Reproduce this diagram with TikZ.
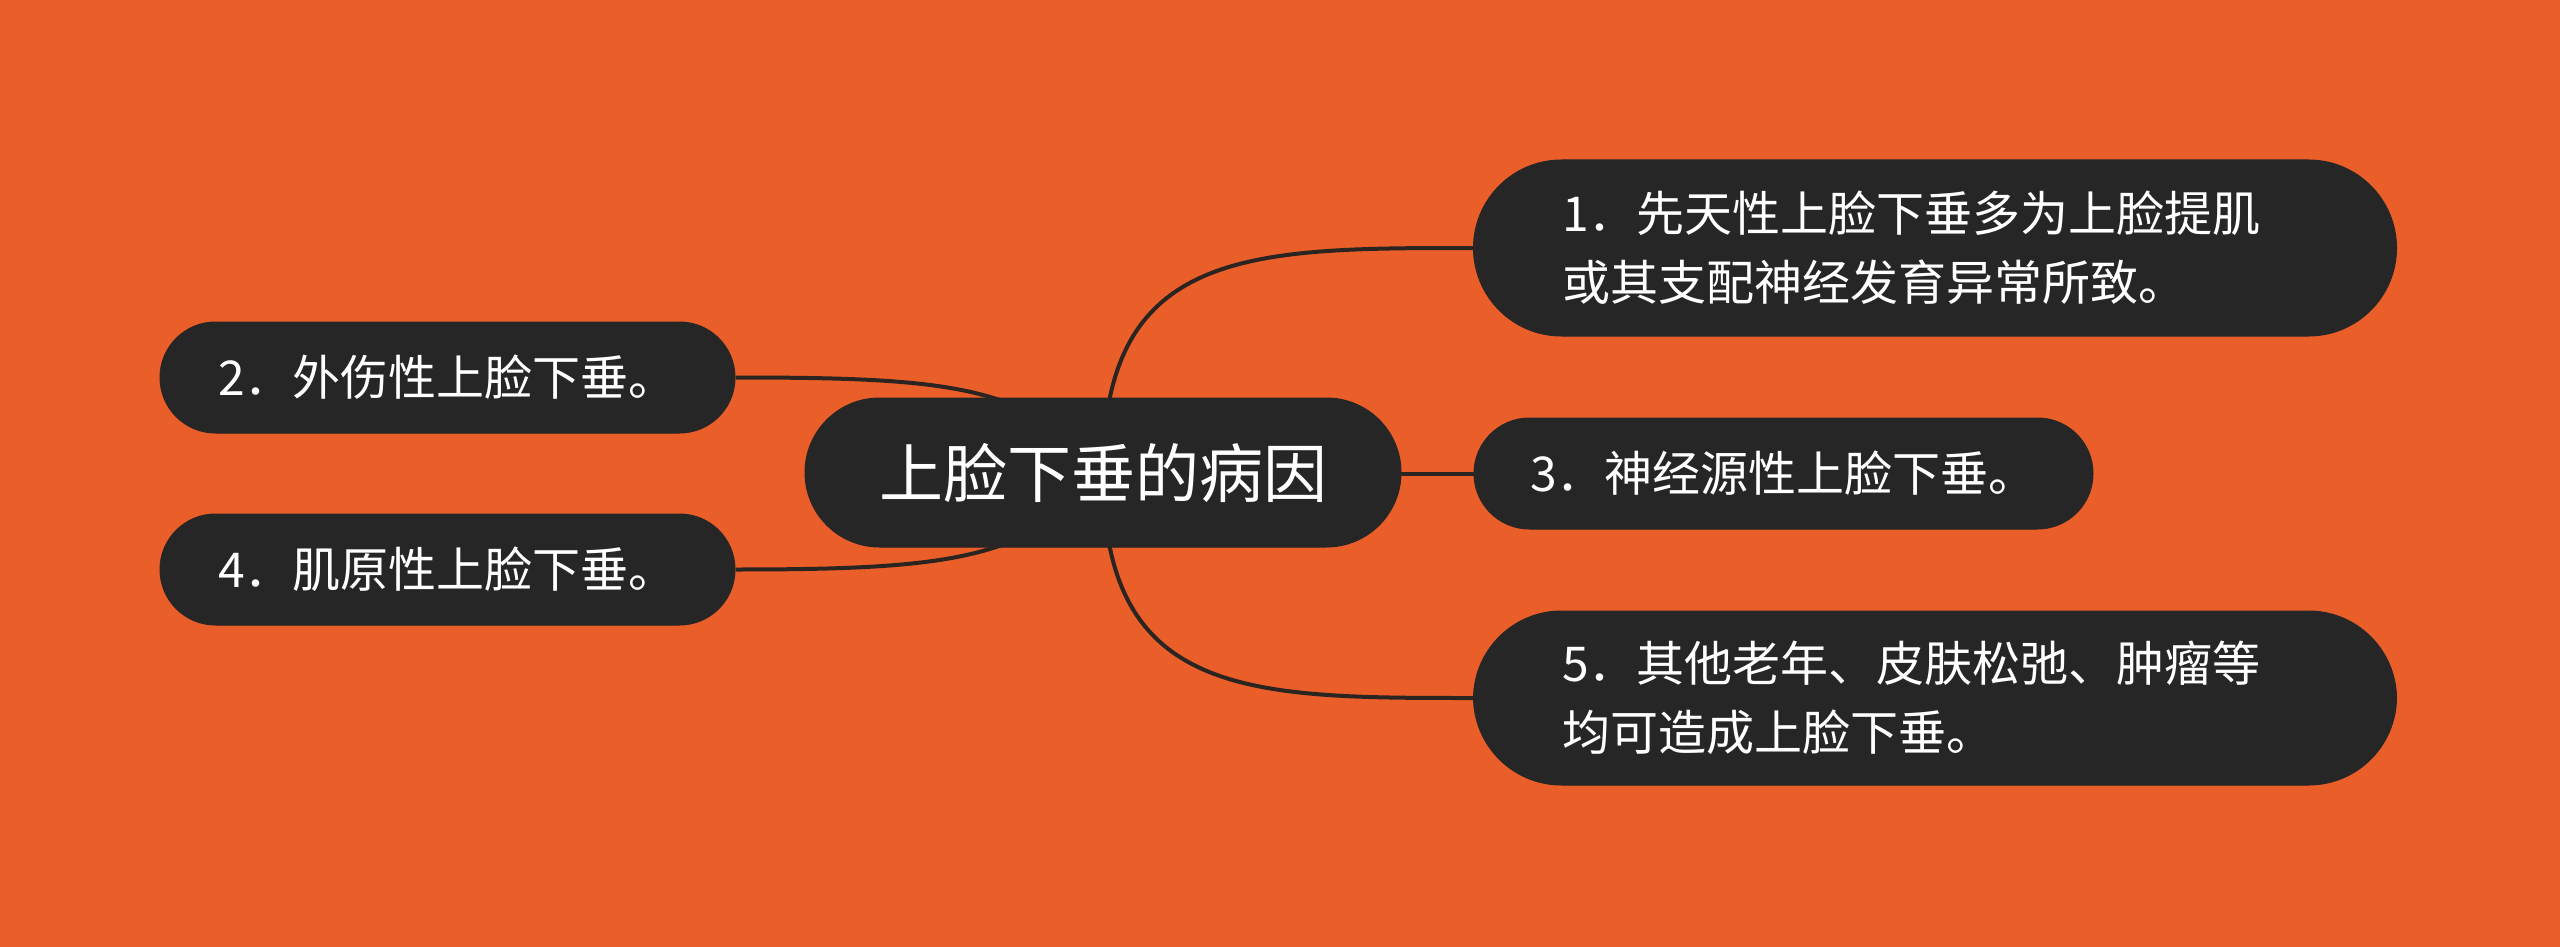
\documentclass[tikz,border=0pt]{standalone}
\usepackage{fontspec}
\newfontfamily\cjk{Noto Sans CJK SC}
\usetikzlibrary{calc}
\definecolor{bgorange}{HTML}{EA5E2A}
\definecolor{nodedark}{HTML}{262626}
\definecolor{linedark}{HTML}{2B2522}
\pgfdeclarelayer{bg}\pgfdeclarelayer{edges}\pgfsetlayers{bg,edges,main}
\begin{document}
\begin{tikzpicture}[x=0.5pt,y=-0.5pt,
  pill/.style={fill=nodedark, draw=black!85, line width=0.5pt, text=white, inner sep=0pt,
    font=\cjk\fontsize{24}{34.5}\selectfont},
  small/.style={pill, minimum width=287.5pt, minimum height=55.5pt, rounded corners=27.75pt},
  big/.style={pill, minimum width=461.5pt, minimum height=88pt, rounded corners=44pt,
    text width=373pt, align=left},
  centre/.style={pill, minimum width=298pt, minimum height=74.5pt, rounded corners=37.25pt,
    font=\cjk\fontsize{32}{38}\selectfont},
  edge/.style={draw=linedark, line width=2pt}
]
\useasboundingbox (0,0) rectangle (2560,947);
\begin{pgfonlayer}{bg}
\fill[bgorange] (0,0) rectangle (2560,947);
\end{pgfonlayer}

\node[centre] (c) at (1103,472.5) {上脸下垂的病因};
\node[big] (n1) at (1935,248) {1．先天性上脸下垂多为上脸提肌\\或其支配神经发育异常所致。};
\node[small] (n2) at (447.5,377.5) {2．外伤性上脸下垂。};
\node[small, minimum width=309.5pt] (n3) at (1783.5,473.5) {3．神经源性上脸下垂。};
\node[small] (n4) at (447.5,569.5) {4．肌原性上脸下垂。};
\node[big, minimum height=87pt] (n5) at (1935,698) {5．其他老年、皮肤松弛、肿瘤等\\均可造成上脸下垂。};

\begin{pgfonlayer}{edges}
\draw[edge] (c.center) .. controls (c.center |- n1.west) and ($(n1.west)+(-224,0)$) .. (n1.west);
\draw[edge] (c.center) .. controls (c.center |- n5.west) and ($(n5.west)+(-224,0)$) .. (n5.west);
\draw[edge] (c.center |- n3.west) -- (n3.west);
\draw[edge] (n2.east) .. controls ($(n2.east)+(215,0)$) and ($(c.center)+(-73,-87)$) .. (c.center);
\draw[edge] (n4.east) .. controls ($(n4.east)+(215,0)$) and ($(c.center)+(-73,87)$) .. (c.center);
\end{pgfonlayer}
\end{tikzpicture}
\end{document}
